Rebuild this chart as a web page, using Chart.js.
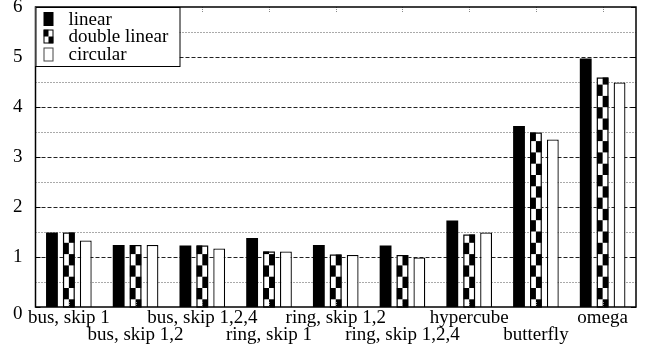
<!DOCTYPE html>
<html lang="en">
<head>
<meta charset="UTF-8">
<title>Topology comparison</title>
<script src="https://cdn.jsdelivr.net/npm/chart.js"></script>
<style>
  body { margin: 0; background: #fff; }
  #wrap { position: relative; width: 648px; height: 351px; }
</style>
</head>
<body>
<div id="wrap"><canvas id="chart"></canvas></div>
<script>
// values
const categories = ['bus, skip 1', 'bus, skip 1,2', 'bus, skip 1,2,4', 'ring, skip 1',
  'ring, skip 1,2', 'ring, skip 1,2,4', 'hypercube', 'butterfly', 'omega'];
const linear       = [1.49, 1.24, 1.23, 1.38, 1.24, 1.23, 1.73, 3.62, 4.97];
const doubleLinear = [1.49, 1.24, 1.23, 1.11, 1.05, 1.04, 1.45, 3.49, 4.59];
const circular     = [1.33, 1.24, 1.17, 1.11, 1.04, 0.99, 1.49, 3.35, 4.49];
const seriesNames  = ['linear', 'double linear', 'circular'];
const yLabels      = ['0', '1', '2', '3', '4', '5', '6'];

const serif = "'Liberation Serif', 'Times New Roman', serif";
Chart.defaults.font.family = serif;
Chart.defaults.font.size = 18;
Chart.defaults.color = '#000';

// gnuplot staggers the labels on two rows
const xLabels = categories.map((c, i) => i % 2 ? ['', c] : [c]);

const CELL_H = 11.3;   // checker cell height
const CELL_PHASE = 7.7;

function checkerRect(ctx, left, top, w, bottom, cols, cellH, phase) {
  ctx.save();
  ctx.beginPath();
  ctx.rect(left, top, w, bottom - top);
  ctx.clip();
  ctx.fillStyle = '#fff';
  ctx.fillRect(left, top, w, bottom - top);
  ctx.fillStyle = '#000';
  const cw = w / cols;
  let r = 0;
  for (let yb = bottom + (cellH - phase); yb > top; yb -= cellH, r++) {
    for (let c = 0; c < cols; c++) {
      if ((r + c) % 2 === 1) ctx.fillRect(left + c * cw, yb - cellH, cw, cellH);
    }
  }
  ctx.restore();
}

// labels may hang over the frame edges, as in gnuplot
function noOverhang(scale) {
  scale.paddingTop = 0;
  scale.paddingBottom = 0;
  scale.paddingLeft = 0;
  scale.paddingRight = 0;
}

const gnuplotLook = {
  id: 'gnuplotLook',
  beforeDatasetsDraw(chart) {
    const {ctx, chartArea: a, scales: {y}} = chart;
    ctx.save();
    ctx.lineWidth = 1;
    y.ticks.forEach(t => {
      if (t.value <= 0 || t.value >= 6) return;
      const py = Math.round(y.getPixelForValue(t.value)) + 0.5;
      const major = Number.isInteger(t.value);
      ctx.strokeStyle = major ? '#222' : '#555';
      ctx.setLineDash(major ? [4, 2] : [1, 2]);
      ctx.beginPath();
      ctx.moveTo(a.left, py);
      ctx.lineTo(a.right, py);
      ctx.stroke();
    });
    ctx.restore();
  },
  afterDatasetsDraw(chart) {
    const {ctx, chartArea: a, scales: {x, y}} = chart;

    // checkered fill for the middle series
    chart.getDatasetMeta(1).data.forEach(bar => {
      const p = bar.getProps(['x', 'y', 'base', 'width'], true);
      const left = p.x - p.width / 2;
      checkerRect(ctx, left, p.y, p.width, p.base, 2, CELL_H, CELL_PHASE);
      ctx.save();
      ctx.strokeStyle = '#000';
      ctx.lineWidth = 1.2;
      ctx.strokeRect(left + 0.6, p.y + 0.6, p.width - 1.2, p.base - p.y - 0.6);
      ctx.restore();
    });

    ctx.save();
    // small x tics at top and bottom
    ctx.strokeStyle = '#888';
    ctx.lineWidth = 1;
    ctx.setLineDash([1, 1]);
    categories.forEach((c, i) => {
      const px = Math.round(x.getPixelForValue(i)) + 0.5;
      ctx.beginPath();
      ctx.moveTo(px, a.top); ctx.lineTo(px, a.top + 6);
      ctx.moveTo(px, a.bottom); ctx.lineTo(px, a.bottom - 6);
      ctx.stroke();
    });
    // y tics on both sides
    ctx.setLineDash([]);
    ctx.strokeStyle = '#000';
    yLabels.forEach((l, v) => {
      const py = Math.round(y.getPixelForValue(v)) + 0.5;
      ctx.beginPath();
      ctx.moveTo(a.left, py); ctx.lineTo(a.left + 5, py);
      ctx.moveTo(a.right, py); ctx.lineTo(a.right - 5, py);
      ctx.stroke();
    });
    // frame
    ctx.lineWidth = 1.5;
    ctx.strokeRect(a.left, a.top, a.right - a.left, a.bottom - a.top);

    // zero label sits a little lower in the original
    ctx.fillStyle = '#000';
    ctx.font = '19px ' + serif;
    ctx.textAlign = 'right';
    ctx.textBaseline = 'middle';
    ctx.fillText(yLabels[0], a.left - 13, y.getPixelForValue(0) + 7);

    // legend box, top left inside the plot
    const lx = a.left, ly = a.top, lw = 144, lh = 59;
    ctx.fillStyle = '#fff';
    ctx.fillRect(lx, ly, lw, lh);
    ctx.lineWidth = 1;
    ctx.strokeStyle = '#000';
    ctx.strokeRect(lx + 0.5, ly + 0.5, lw, lh);
    const rows = [12, 29.5, 47.5];
    ctx.textAlign = 'left';
    ctx.font = '19px ' + serif;
    chart.data.datasets.forEach((ds, i) => {
      const sy = ly + rows[i];
      const sx = lx + 8;
      if (i === 0) {
        ctx.fillStyle = '#000';
        ctx.fillRect(sx, sy - 7, 10, 14);
      } else if (i === 1) {
        checkerRect(ctx, sx, sy - 7, 10, sy + 7, 2, 7, 7);
        ctx.strokeRect(sx + 0.5, sy - 6.5, 9, 13);
      } else {
        ctx.fillStyle = '#fff';
        ctx.fillRect(sx, sy - 7, 10, 14);
        ctx.strokeStyle = '#444';
        ctx.strokeRect(sx + 0.5, sy - 6.5, 9, 13);
        ctx.strokeStyle = '#000';
      }
      ctx.fillStyle = '#000';
      ctx.fillText(ds.label, lx + 33, sy + 1);
    });
    ctx.restore();
  }
};

new Chart(document.getElementById('chart'), {
  type: 'bar',
  data: {
    labels: xLabels,
    datasets: [
      { label: seriesNames[0], data: linear, backgroundColor: '#000', borderWidth: 0 },
      { label: seriesNames[1], data: doubleLinear, backgroundColor: '#fff', borderWidth: 0 },
      { label: seriesNames[2], data: circular, backgroundColor: '#fff', borderColor: '#000', borderWidth: 1.3 }
    ]
  },
  options: {
    responsive: true,
    maintainAspectRatio: false,
    animation: false,
    layout: { padding: { left: 0, right: 12, top: 7, bottom: 4 } },
    datasets: { bar: { categoryPercentage: 0.76, barPercentage: 0.7 } },
    plugins: { legend: { display: false }, tooltip: { enabled: false } },
    scales: {
      x: {
        afterFit: noOverhang,
        grid: { display: false, drawTicks: false },
        border: { display: false },
        ticks: { padding: 3, maxRotation: 0, autoSkip: false, font: { size: 19, lineHeight: '17px' } }
      },
      y: {
        min: 0,
        max: 6,
        afterFit: noOverhang,
        grid: { display: false, drawTicks: false },
        border: { display: false },
        ticks: {
          stepSize: 0.5,
          autoSkip: false,
          padding: 13,
          font: { size: 19 },
          callback: v => (Number.isInteger(v) && v > 0) ? yLabels[v] : ''
        }
      }
    }
  },
  plugins: [gnuplotLook]
});
</script>
</body>
</html>
